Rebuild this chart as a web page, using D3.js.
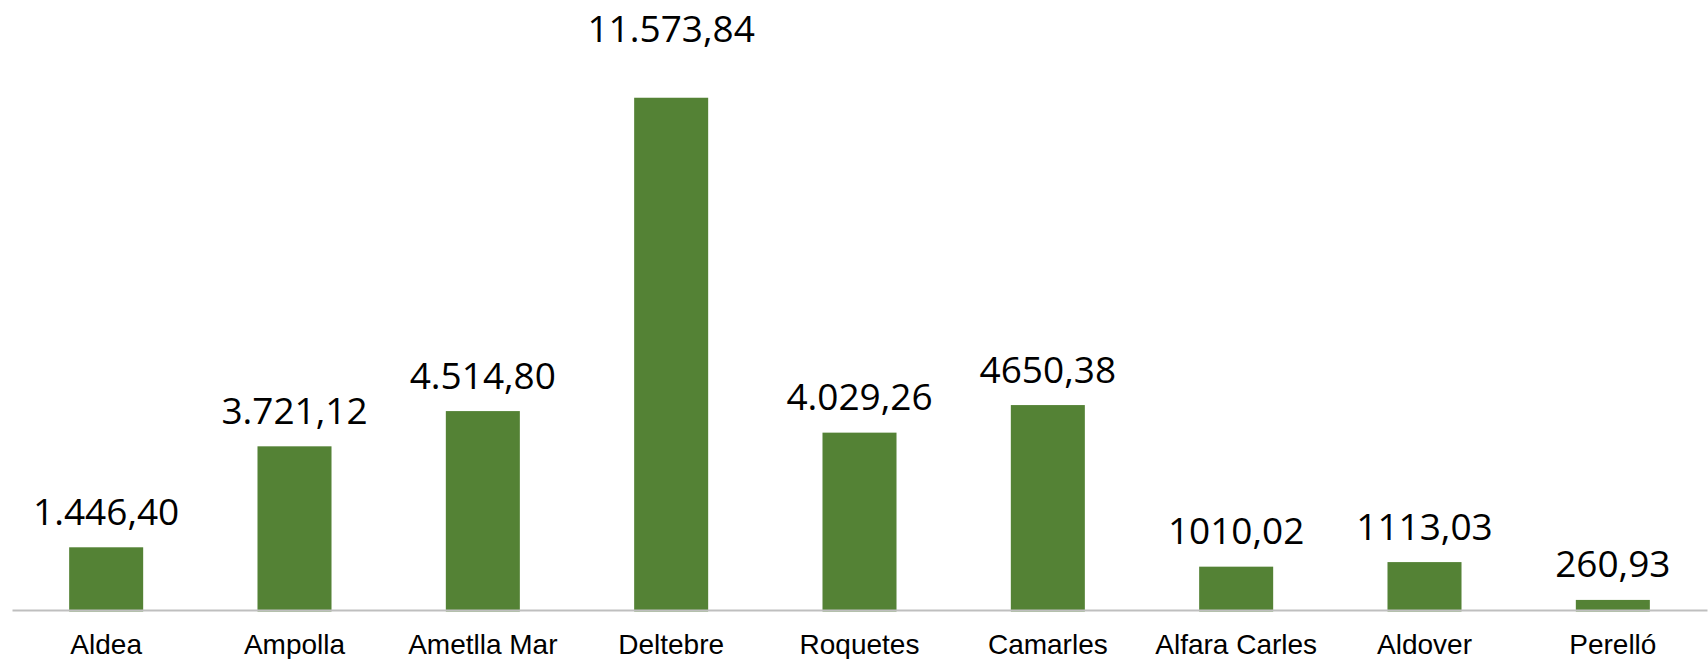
<!DOCTYPE html>
<html>
<head>
<meta charset="utf-8">
<script src="https://cdn.jsdelivr.net/npm/d3@7"></script>
<style>
  html, body { margin: 0; padding: 0; background: #fff; }
  svg { display: block; }
</style>
</head>
<body>
<div id="chartCtn"></div>
<script>
// data
var categories = [ "Aldea", "Ampolla", "Ametlla Mar", "Deltebre", "Roquetes", "Camarles", "Alfara Carles", "Aldover", "Perelló" ];
var values = [ 1446.40, 3721.12, 4514.80, 11573.84, 4029.26, 4650.38, 1010.02, 1113.03, 260.93 ];
var valueLabels = [ "1.446,40", "3.721,12", "4.514,80", "11.573,84", "4.029,26", "4650,38", "1010,02", "1113,03", "260,93" ];

var width = 1708, height = 659;
var left = 12, right = 1707, base = 611.5, axisY = 610;

var xScale = d3.scaleBand()
	.domain( d3.range( categories.length ) )
	.range( [ left, right ] )
	.paddingInner( 0.607 )
	.paddingOuter( 0.3035 );

var yScale = d3.scaleLinear()
	.domain( [ 0, 12000 ] )
	.range( [ base, base - 12000 * 0.04439 ] );

var svg = d3.select( "#chartCtn" )
	.append( "svg" )
	.attr( "width", width )
	.attr( "height", height );

svg.selectAll( "rect.bar" )
	.data( values )
	.enter()
	.append( "rect" )
	.attr( "class", "bar" )
	.attr( "x", ( d, i ) => xScale( i ) )
	.attr( "y", d => yScale( d ) )
	.attr( "width", xScale.bandwidth() )
	.attr( "height", d => yScale( 0 ) - yScale( d ) )
	.attr( "fill", "#548235" );

// category axis
var xAxis = svg.append( "g" )
	.attr( "transform", `translate(0, ${ axisY } )` )
	.call( d3.axisBottom( xScale ).tickFormat( i => categories[ i ] ).tickSize( 0 ).tickPadding( 24 ) );

xAxis.select( ".domain" )
	.attr( "stroke", "#bfbfbf" )
	.attr( "stroke-width", 2 );

xAxis.selectAll( "text" )
	.attr( "font-family", "'Liberation Sans', Arial, sans-serif" )
	.attr( "font-size", "28px" )
	.attr( "fill", "#000" );

// value labels; the tallest bar's label sits higher up, as in the original
svg.selectAll( "text.val" )
	.data( values )
	.enter()
	.append( "text" )
	.attr( "class", "val" )
	.attr( "x", ( d, i ) => xScale( i ) + xScale.bandwidth() / 2 )
	.attr( "y", d => yScale( d ) - ( d === d3.max( values ) ? 56 : 22.5 ) )
	.attr( "text-anchor", "middle" )
	.attr( "font-family", "'Open Sans', sans-serif" )
	.attr( "font-size", "37px" )
	.attr( "fill", "#000" )
	.text( ( d, i ) => valueLabels[ i ] );
</script>
</body>
</html>
